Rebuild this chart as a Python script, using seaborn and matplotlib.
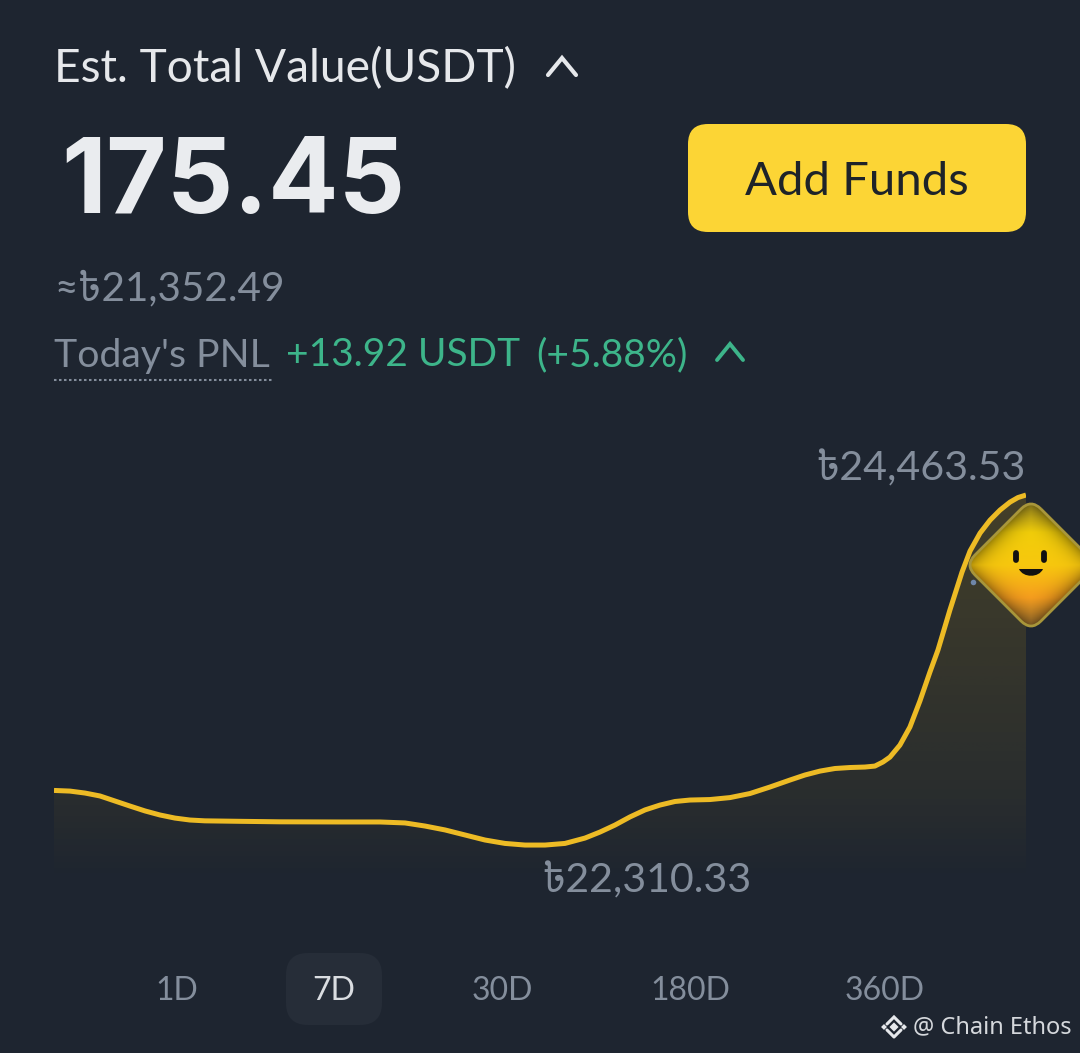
import numpy as np
import pandas as pd
import matplotlib
matplotlib.use("Agg")
import matplotlib.pyplot as plt
import seaborn as sns
from matplotlib.colors import LinearSegmentedColormap
from matplotlib.patches import FancyBboxPatch, PathPatch
from matplotlib.path import Path
from matplotlib.transforms import Affine2D

# values
days = [0, .115, .223, .331, .439, .547, .655, .763, .871, .979, 1.087, 1.340, 1.628, 2.060, 2.348, 2.528,
        2.672, 2.816, 2.960, 3.104, 3.248, 3.392, 3.536, 3.680, 3.824, 3.932, 4.040, 4.148, 4.256, 4.364,
        4.472, 4.580, 4.724, 4.868, 5.012, 5.156, 5.300, 5.408, 5.516, 5.624, 5.732, 5.840, 5.912, 5.970,
        6.020, 6.092, 6.164, 6.236, 6.308, 6.366, 6.452, 6.539, 6.597, 6.669, 6.741, 6.813, 6.885, 6.942, 7]
value = [22646, 22642, 22630, 22612, 22581, 22550, 22520, 22495, 22476, 22464, 22459, 22456, 22453, 22452,
         22452, 22446, 22427, 22403, 22372, 22341, 22320, 22310, 22310, 22320, 22353, 22390, 22433, 22483,
         22526, 22556, 22578, 22587, 22590, 22602, 22627, 22667, 22710, 22741, 22765, 22781, 22787, 22790,
         22796, 22821, 22851, 22925, 23036, 23196, 23374, 23510, 23756, 23989, 24119, 24229, 24309, 24371,
         24420, 24448, 24463.53]
max_label = "৳24,463.53"
min_label = "৳22,310.33"
ranges = ["1D", "7D", "30D", "180D", "360D"]
range_x = [177, 334, 502, 690, 885]

BG = "#1E2530"
GREY = "#848E9C"

sns.set_theme(style="dark")
plt.rcParams["font.family"] = ["Lato", "Noto Sans Bengali", "DejaVu Sans"]

fig = plt.figure(figsize=(10.8, 10.53), dpi=100, facecolor=BG)

# chart, axes spans pixel 54..1026 across and 480..880 down
ax = fig.add_axes([54 / 1080, 1 - 880 / 1053, 972 / 1080, 400 / 1053])
ax.set_facecolor("none")
df = pd.DataFrame({"day": days, "value": value})
ax.set_xlim(0, 7)
ax.set_ylim(22095, 24556)
poly = ax.fill_between(df["day"], df["value"], 22095, color="none")
shade = np.zeros((200, 2, 4))
shade[..., :3] = matplotlib.colors.to_rgb("#F0B90B")
# fades slowly down to about y=800, then quickly to nothing at the bottom
shade[..., 3] = np.interp(np.linspace(0, 1, 200), [0, 0.79, 1], [0.18, 0.055, 0.0])[:, None]
im = ax.imshow(shade, extent=[0, 7, 22095, 24463], aspect="auto", origin="upper", zorder=1)
im.set_clip_path(poly.get_paths()[0], transform=ax.transData)
sns.lineplot(data=df, x="day", y="value", color="#EDBB25", lw=3.6, ax=ax, zorder=2, errorbar=None,
             solid_capstyle="butt", solid_joinstyle="round")
ax.axis("off")

# everything else is drawn in pixel coordinates on an overlay
ui = fig.add_axes([0, 0, 1, 1], facecolor="none")
ui.set_xlim(0, 1080)
ui.set_ylim(1053, 0)
ui.axis("off")


def label(x, y, s, size, color=GREY, ha="left", **kw):
    ui.text(x, y + 3, s, fontsize=size, color=color, ha=ha, va="center", **kw)


def chevron(x0, x1, y_top, y_bot, color, lw):
    ui.plot([x0, (x0 + x1) / 2, x1], [y_bot, y_top, y_bot], color=color, lw=lw,
            solid_capstyle="round", solid_joinstyle="miter")


label(54, 66, "Est. Total Value(USDT)", 33.2, "#E6E8EB")
chevron(548, 576, 58, 75, "#E6E8EB", 3)
label(61, 182, "175.45", 75, "#EAECEF", family="Inter", fontweight="bold")

ui.add_patch(FancyBboxPatch((708, 144), 298, 68, boxstyle="round,pad=20,rounding_size=20",
                            fc="#FCD535", ec="none"))
label(857, 179, "Add Funds", 34, "#1E2329", ha="center")

label(54, 286, "≈৳21,352.49", 29.2)
label(54, 353, "Today's PNL", 28.3)
ui.plot([54, 272], [380, 380], color=GREY, lw=1.5, ls=(0, (1.2, 1.2)))
label(286, 352, "+13.92 USDT", 28, "#3DB58A")
label(536, 352, "(+5.88%)", 28, "#3DB58A")
chevron(717, 743, 344, 360, "#3DB58A", 2.8)

label(1026, 466, max_label, 29.6, ha="right")
label(541, 878, min_label, 29.6)

# range selector
ui.add_patch(FancyBboxPatch((308, 975), 52, 28, boxstyle="round,pad=22,rounding_size=22",
                            fc="#262D38", ec="none"))
for x, r in zip(range_x, ranges):
    label(x, 988, r, 23, "#DADDE1" if r == "7D" else GREY, ha="center")

# mascot diamond
cx, cy, half = 1031, 565, 66
rot = Affine2D().rotate_deg_around(cx, cy, 45) + ui.transData
side = half * 0.7071 - 10
box = FancyBboxPatch((cx - side, cy - side), 2 * side, 2 * side, boxstyle="round,pad=10,rounding_size=14",
                     fc="none", ec="#A8963A", lw=2, transform=rot, zorder=5, clip_on=False)
cmap = LinearSegmentedColormap.from_list("face", ["#9C8A22", "#F2CE0A", "#F7C70E", "#F79E1E", "#8F6A30"])
yy, xx = np.mgrid[0:1:200j, 0:1:200j]
glow = cmap(np.clip(yy, 0, 1))
edge = np.clip((np.abs(xx - 0.5) + np.abs(yy - 0.5)) / 0.5, 0, 1) ** 5
glow[..., :3] = glow[..., :3] * (1 - 0.4 * edge[..., None])
face = ui.imshow(glow, extent=[cx - half, cx + half, cy + half, cy - half], aspect="auto", zorder=4)
ui.set_xlim(0, 1080)
ui.set_ylim(1053, 0)
ui.add_patch(box)
face.set_clip_path(box.get_path(), box.get_transform())
for ex in (1016, 1044):
    ui.plot([ex, ex], [553, 560], color="#111111", lw=4.2, solid_capstyle="round", zorder=6)
ui.add_patch(PathPatch(Path([(1019, 569), (1043, 569), (1039, 578), (1023, 578), (1019, 569)],
                            [Path.MOVETO, Path.LINETO, Path.CURVE4, Path.CURVE4, Path.CURVE4]),
                       fc="#111111", ec="none", zorder=6))
ui.scatter([973], [582], s=16, color="#6F86A8", lw=0, zorder=3)

# watermark
ui.scatter([894, 884, 904], [1027, 1027, 1027], marker="D", s=[22, 9, 9], color="#E6E8EB", lw=0)
chevron(887, 901, 1017, 1024, "#E6E8EB", 2.2)
ui.plot([887, 894, 901], [1030, 1037, 1030], color="#E6E8EB", lw=2.2)
ui.text(913, 1027, "@ Chain Ethos", fontsize=17, color="#D5D8DC", family="Noto Sans", va="center")

fig.savefig("out.png", dpi=100, facecolor=BG)
